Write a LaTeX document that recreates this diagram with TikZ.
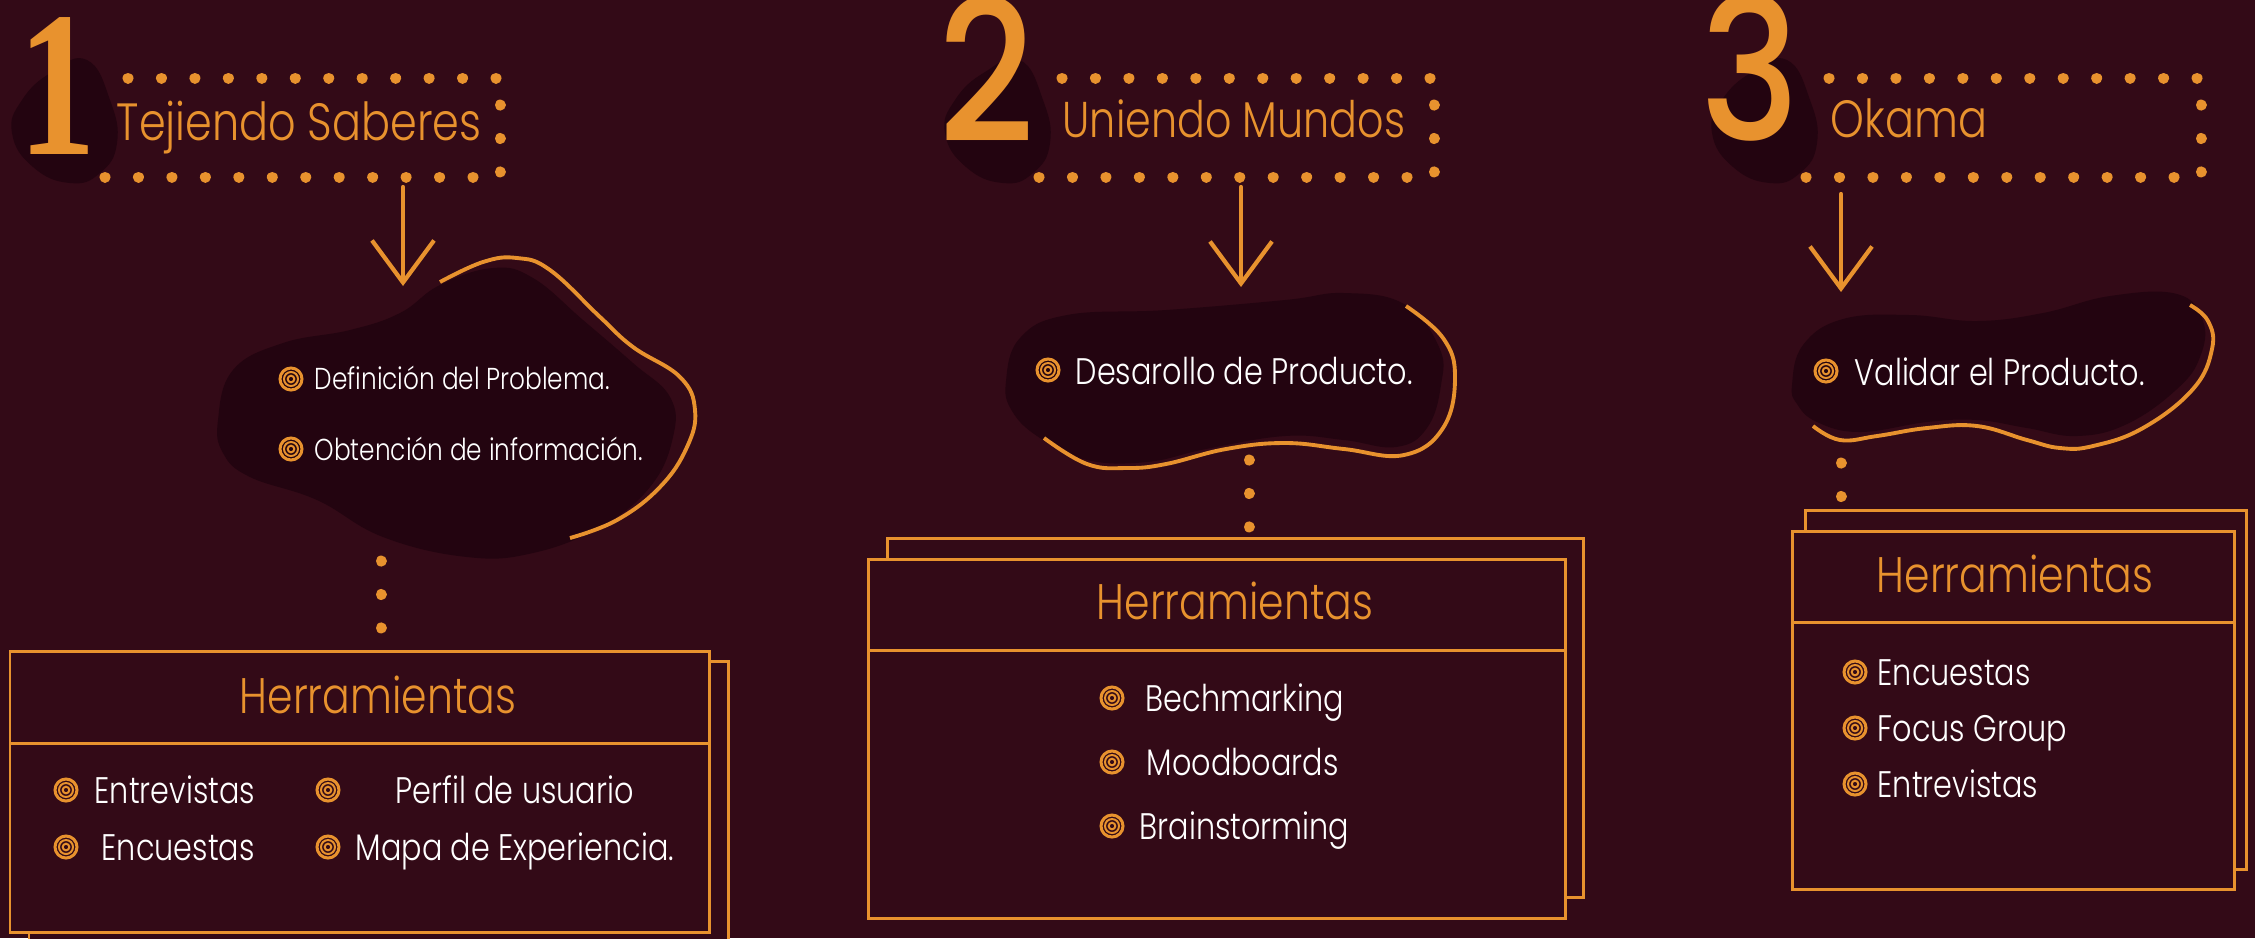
\documentclass[tikz,border=0pt]{standalone}
\usepackage{fontspec}
\newfontfamily\finafont{Poppins}[UprightFont={* Light},FakeStretch=0.82]
\newfontfamily\numfont{Poppins}[UprightFont={* Medium},FakeStretch=0.85]
\newfontfamily\unofont{Liberation Serif Bold}[FakeStretch=0.75]
\usetikzlibrary{arrows.meta}
\definecolor{fondo}{RGB}{51,10,23}
\definecolor{mancha}{RGB}{35,4,16}
\definecolor{naranja}{RGB}{232,146,46}
\tikzset{
  puntos/.style={naranja, line width=1.1mm, line cap=round, dash pattern=on 0.01pt off 3.34mm},
  flecha/.style={naranja, line width=1.2pt, line cap=round, -{Straight Barb[length=4.2mm,width=6.2mm]}},
  borde/.style={naranja, line width=1.1pt},
  caja/.style={draw=naranja, fill=fondo, line width=0.85pt},
  titulo/.style={naranja, anchor=base west, inner sep=0pt, font=\finafont\fontsize{14.9}{15}\selectfont},
  cabeza/.style={naranja, anchor=base, inner sep=0pt, font=\finafont\fontsize{14.2}{15}\selectfont},
  texto/.style={white, anchor=base west, inner sep=0pt, font=\finafont\fontsize{10.5}{12}\selectfont},
  numero/.style={naranja, anchor=base west, inner sep=1pt, text height=1.42cm, text depth=0pt,
                 font=\numfont\fontsize{56}{56}\selectfont},
  diana/.pic={\draw[naranja, line width=0.3mm] (0,0) circle[radius=1.1mm];
              \draw[naranja, line width=0.2mm] (0,0) circle[radius=0.7mm] (0,0) circle[radius=0.33mm];}
}
\begin{document}
\begin{tikzpicture}[x=0.01cm,y=-0.01cm]
        %Fondo
        \fill[fondo] (0,0) rectangle (2255,938);
        \useasboundingbox (0,0) rectangle (2255,938);
        %Numeros
        \foreach \dx in {0,933,1700}
            \fill[mancha, shift={(\dx,0)}] plot[smooth cycle, tension=0.8] coordinates
                {(87,60) (110,100) (117,143) (100,173) (70,183) (33,167) (12,133) (22,100) (52,72)};
        \node[numero, font=\unofont\fontsize{59}{59}\selectfont] (n1) at (14,154) {1};
        \node[numero] (n2) at (934,142) {2};
        \node[numero] (n3) at (1696,140) {3};
        %Marcos de puntos
        \foreach \x in {128,1062,1829} {
            \draw[puntos] (\x,78) -- ++(369,0);
            \draw[puntos] (\x+372,105) -- ++(0,69);
            \draw[puntos] (\x-23,177) -- ++(369,0);
        }
        \node[titulo] (tit1) at (116,140) {Tejiendo Saberes};
        \node[titulo, font=\finafont\fontsize{14.3}{15}\selectfont] (tit2) at (1062,137) {Uniendo Mundos};
        \node[titulo] (tit3) at (1830,137) {Okama};
        %Flechas
        \coordinate (f1a) at (403,187); \coordinate (f1b) at (403,286);
        \coordinate (f2a) at (1241,187); \coordinate (f2b) at (1241,287);
        \coordinate (f3a) at (1841,194); \coordinate (f3b) at (1841,292);
        \draw[flecha] (f1a) -- (f1b);
        \draw[flecha] (f2a) -- (f2b);
        \draw[flecha] (f3a) -- (f3b);
        %Manchas
        \fill[mancha] plot[smooth cycle, tension=0.7] coordinates
            {(218,420) (233,370) (283,343) (350,330) (400,313) (440,285) (493,268) (533,278) (583,320) (633,363) (670,397) (673,437) (650,487) (600,527) (533,553) (467,557) (383,537) (317,500) (250,477) (223,453)};
        \draw[borde] plot[smooth, tension=0.7] coordinates
            {(440,282) (483,262) (517,258) (550,270) (600,317) (633,347) (680,377) (695,410) (687,447) (660,487) (617,520) (570,538)};
        \fill[mancha] plot[smooth cycle, tension=0.7] coordinates
            {(1006,381) (1020,338) (1067,315) (1166,310) (1285,300) (1344,293) (1404,304) (1439,347) (1441,385) (1427,428) (1396,447) (1344,440) (1285,436) (1206,449) (1147,462) (1087,460) (1040,438) (1012,411)};
        \draw[borde] plot[smooth, tension=0.7] coordinates
            {(1406,306) (1443,338) (1455,377) (1443,428) (1404,455) (1344,449) (1285,443) (1226,449) (1166,464) (1127,468) (1087,464) (1044,438)};
        \fill[mancha] plot[smooth cycle, tension=0.7] coordinates
            {(1792,385) (1803,345) (1843,319) (1910,315) (1977,321) (2043,313) (2110,296) (2177,294) (2203,321) (2200,357) (2177,389) (2127,424) (2077,436) (2027,428) (1977,420) (1927,422) (1860,432) (1817,422) (1797,404)};
        \draw[borde] plot[smooth, tension=0.7] coordinates
            {(2190,305) (2208,321) (2212,349) (2193,389) (2143,428) (2093,446) (2060,448) (2027,440) (1977,426) (1927,428) (1877,436) (1840,440) (1813,426)};
        %Textos de las manchas
        \pic at (291,379) {diana};
        \node[texto, font=\finafont\fontsize{8.6}{10}\selectfont] (def) at (314,389) {Definición del Problema.};
        \pic at (291,449) {diana};
        \node[texto, font=\finafont\fontsize{8.6}{10}\selectfont] (obt) at (314,460) {Obtención de información.};
        \pic at (1048,370) {diana};
        \node[texto] (des) at (1075,384) {Desarollo de Producto.};
        \pic at (1826,371) {diana};
        \node[texto] (val) at (1854,385) {Validar el Producto.};
        %Puntos hacia las cajas
        \coordinate (p1a) at (381,561); \coordinate (p1b) at (381,630);
        \coordinate (p2a) at (1249,460); \coordinate (p2b) at (1249,529);
        \coordinate (p3a) at (1841,463); \coordinate (p3b) at (1841,498);
        \draw[puntos] (p1a) -- (p1b);
        \draw[puntos] (p2a) -- (p2b);
        \draw[puntos] (p3a) -- (p3b);
        %Cajas
        \draw[caja] (29,661) rectangle (728,951);
        \draw[caja] (10,651) rectangle (709,932);
        \draw[caja] (10,743) -- (709,743);
        \draw[caja] (887,538) rectangle (1583,897);
        \draw[caja] (868,559) rectangle (1565,918);
        \draw[caja] (868,650) -- (1565,650);
        \draw[caja] (1805,510) rectangle (2246,869);
        \draw[caja] (1792,531) rectangle (2234,889);
        \draw[caja] (1792,622) -- (2234,622);
        \node[cabeza] (her1) at (378,713) {Herramientas};
        \node[cabeza] (her2) at (1235,619) {Herramientas};
        \node[cabeza] (her3) at (2015,592) {Herramientas};
        %Herramientas 1
        \pic at (66,790) {diana};  \node[texto] (ent1) at (94,803) {Entrevistas};
        \pic at (66,847) {diana};  \node[texto] (enc1) at (101,860) {Encuestas};
        \pic at (328,790) {diana}; \node[texto] (per1) at (395,803) {Perfil de usuario};
        \pic at (328,847) {diana}; \node[texto] (map1) at (355,860) {Mapa de Experiencia.};
        %Herramientas 2
        \pic at (1112,698) {diana}; \node[texto] (bec2) at (1145,711) {Bechmarking};
        \pic at (1112,762) {diana}; \node[texto] (moo2) at (1146,775) {Moodboards};
        \pic at (1112,826) {diana}; \node[texto] (bra2) at (1139,839) {Brainstorming};
        %Herramientas 3
        \pic at (1855,672) {diana}; \node[texto] (enc3) at (1877,685) {Encuestas};
        \pic at (1855,728) {diana}; \node[texto] (foc3) at (1877,741) {Focus Group};
        \pic at (1855,784) {diana}; \node[texto] (ent3) at (1877,797) {Entrevistas};
    \end{tikzpicture}
\end{document}
